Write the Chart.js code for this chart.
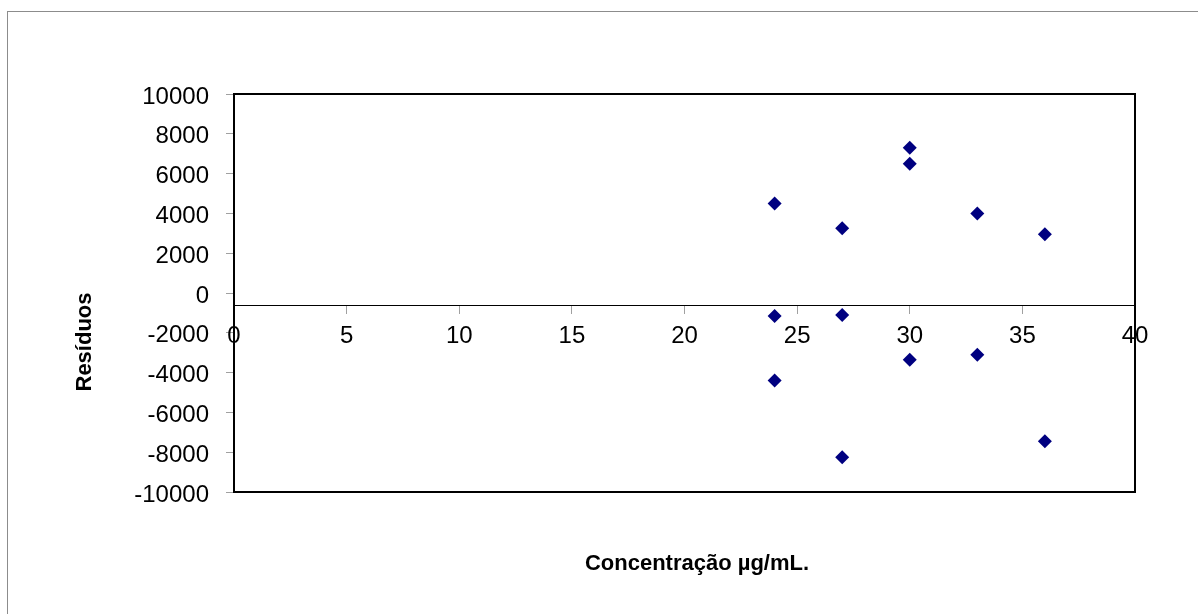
<!DOCTYPE html>
<html>
<head>
<meta charset="utf-8">
<script src="https://cdn.jsdelivr.net/npm/chart.js@4/dist/chart.umd.min.js"></script>
<style>
  html, body { margin: 0; padding: 0; background: #fff; }
  #wrap { width: 1198px; height: 614px; }
</style>
</head>
<body>
<div id="wrap"><canvas id="chart" width="1198" height="614"></canvas></div>
<script>
// residual values
const concentracao = [24, 24, 24, 27, 27, 27, 30, 30, 30, 33, 33, 36, 36];
const residuos = [4500, -1150, -4400, 3250, -1100, -8250, 7300, 6500, -3350, 4000, -3100, 2950, -7450];
const xTicks = [0, 5, 10, 15, 20, 25, 30, 35, 40];
const yTicks = [-10000, -8000, -6000, -4000, -2000, 0, 2000, 4000, 6000, 8000, 10000];
const xCross = -620; // where the category axis crosses the value axis

const FONT = '"Liberation Sans", Arial, sans-serif';

// frame, plot border and the two axis titles
const decor = {
  id: 'decor',
  beforeDraw(chart) {
    const ctx = chart.ctx;
    ctx.save();
    ctx.fillStyle = '#fff';
    ctx.fillRect(0, 0, chart.width, chart.height);
    ctx.strokeStyle = '#8c8c8c';
    ctx.lineWidth = 1;
    ctx.strokeRect(7.5, 11.5, chart.width + 20, chart.height + 20);
    ctx.restore();
  },
  afterDraw(chart) {
    const ctx = chart.ctx;
    const a = chart.chartArea;
    ctx.save();
    ctx.strokeStyle = '#000';
    ctx.lineWidth = 2;
    ctx.strokeRect(a.left, a.top, a.right - a.left, a.bottom - a.top);
    ctx.fillStyle = '#000';
    ctx.font = 'bold 22px ' + FONT;
    ctx.textAlign = 'center';
    ctx.textBaseline = 'middle';
    ctx.fillText('Concentração µg/mL.', 697, 564);
    ctx.translate(85, 342);
    ctx.rotate(-Math.PI / 2);
    ctx.fillText('Resíduos', 0, 0);
    ctx.restore();
  }
};

new Chart(document.getElementById('chart'), {
  type: 'scatter',
  data: {
    datasets: [{
      label: 'Resíduos',
      data: concentracao.map((x, i) => ({ x: x, y: residuos[i] })),
      pointStyle: 'rectRot',
      pointRadius: 7,
      pointHoverRadius: 7,
      backgroundColor: '#000080',
      borderColor: '#000080',
      borderWidth: 0
    }]
  },
  options: {
    responsive: false,
    animation: false,
    events: [],
    layout: { padding: { left: 0, right: 63, top: 94, bottom: 122 } },
    plugins: { legend: { display: false }, tooltip: { enabled: false } },
    scales: {
      x: {
        type: 'linear',
        position: { y: xCross },
        min: 0,
        max: 40,
        afterBuildTicks: (s) => { s.ticks = xTicks.map((v) => ({ value: v })); },
        ticks: { color: '#000', font: { family: FONT, size: 24 }, padding: 9, maxRotation: 0,
                 callback: (v) => String(v) },
        grid: { drawOnChartArea: false, drawTicks: true, tickLength: 8, color: '#a0a0a0' },
        border: { display: true, color: '#000', width: 1 }
      },
      y: {
        type: 'linear',
        position: 'left',
        min: -10000,
        max: 10000,
        afterBuildTicks: (s) => { s.ticks = yTicks.map((v) => ({ value: v })); },
        afterFit: (s) => { s.width = 234; },
        ticks: { color: '#000', font: { family: FONT, size: 24 }, padding: 17, labelOffset: 3,
                 callback: (v) => String(v) },
        grid: { drawOnChartArea: false, drawTicks: true, tickLength: 8, color: '#a0a0a0' },
        border: { display: true, color: '#000', width: 2 }
      }
    }
  },
  plugins: [decor]
});
</script>
</body>
</html>
